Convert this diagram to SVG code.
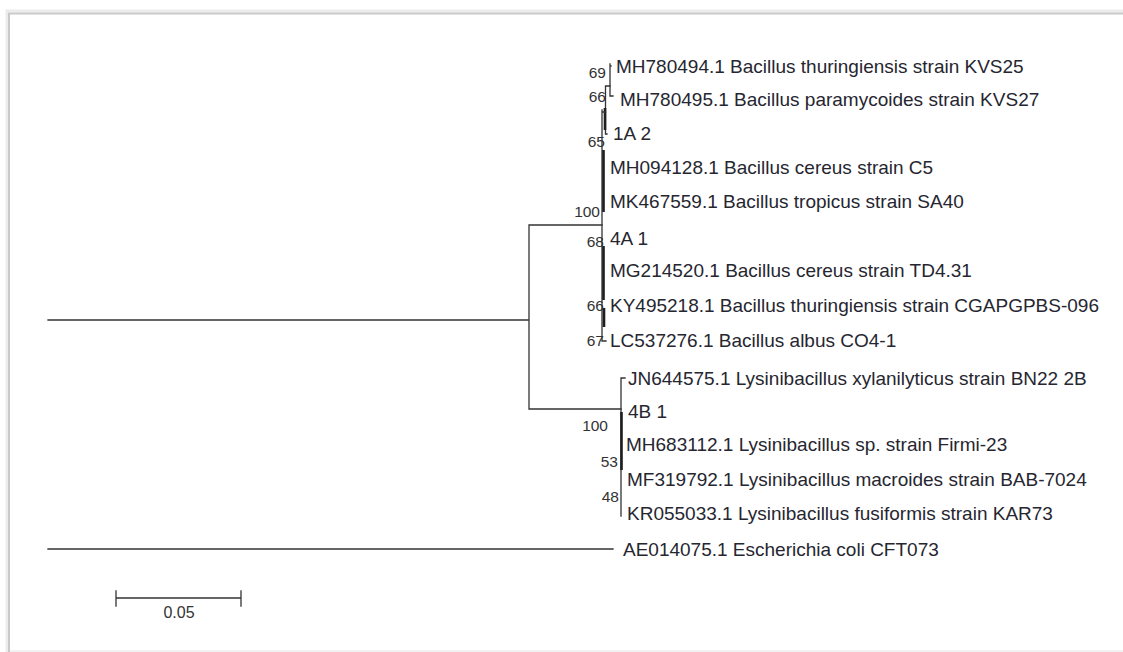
<svg xmlns="http://www.w3.org/2000/svg" width="1123" height="652" viewBox="0 0 1123 652">
<defs>
<style>
.frame{fill:none;stroke:#c9c9c9;stroke-width:2}
.shadow{fill:none;stroke:#ececec;stroke-width:3}
.br{fill:none;stroke:#333;stroke-width:1.3;stroke-linecap:square}
.thk{fill:none;stroke:#1e1e1e;stroke-width:2.6}
.leaf{font-family:"Liberation Sans",Arial,sans-serif;font-size:19px;fill:#262630}
.bs{font-family:"Liberation Sans",Arial,sans-serif;font-size:15.5px;fill:#333;text-anchor:end}
.sc{font-family:"Liberation Sans",Arial,sans-serif;font-size:16px;fill:#333;text-anchor:middle}
</style>
</defs>
<rect width="1123" height="652" fill="#ffffff"/>
<g id="frame">
<path class="shadow" d="M7,655 V11 H1126"/>
<path class="frame" d="M9,655 V13.5 H1126"/>
<path d="M10,651 H1123" stroke="#eeeeee" stroke-width="1.5" fill="none"/>
</g>
<g id="connectors">
<path class="br" d="M48,320 H529 M529,225 V409 M529,225 H602 M529,409 H621 M48,549 H613"/>
<path class="br" d="M610,64 V96 H613 M610,66 H611"/>
<path class="br" d="M605.5,86 V134 H607 M605.5,86 H610"/>
<path class="thk" d="M605,108 V130"/>
<path class="br" d="M602,110 V341 H606 M602,112 H605.5"/>
<path class="thk" d="M603.5,150 V212 M603.5,246 V300 M604,308 V327"/>
<path class="br" d="M621,378 H625 M621,378 V516"/>
<path class="thk" d="M621.5,412 V470"/>
</g>
<g id="labels-bootstrap">
<text class="bs" x="606" y="78">69</text>
<text class="bs" x="606" y="102">66</text>
<text class="bs" x="605" y="147">65</text>
<text class="bs" x="600" y="217">100</text>
<text class="bs" x="604" y="247">68</text>
<text class="bs" x="604" y="311">66</text>
<text class="bs" x="604" y="346">67</text>
<text class="bs" x="608" y="431">100</text>
<text class="bs" x="618" y="467">53</text>
<text class="bs" x="619" y="502">48</text>
</g>
<g id="leaf-MH780494"><text class="leaf" x="616" y="73">MH780494.1 Bacillus thuringiensis strain KVS25</text></g>
<g id="leaf-MH780495"><text class="leaf" x="620" y="106">MH780495.1 Bacillus paramycoides strain KVS27</text></g>
<g id="leaf-1A2"><text class="leaf" x="613" y="140">1A 2</text></g>
<g id="leaf-MH094128"><text class="leaf" x="610" y="174">MH094128.1 Bacillus cereus strain C5</text></g>
<g id="leaf-MK467559"><text class="leaf" x="610" y="208">MK467559.1 Bacillus tropicus strain SA40</text></g>
<g id="leaf-4A1"><text class="leaf" x="610" y="245">4A 1</text></g>
<g id="leaf-MG214520"><text class="leaf" x="610" y="277">MG214520.1 Bacillus cereus strain TD4.31</text></g>
<g id="leaf-KY495218"><text class="leaf" x="610" y="312">KY495218.1 Bacillus thuringiensis strain CGAPGPBS-096</text></g>
<g id="leaf-LC537276"><text class="leaf" x="610" y="347">LC537276.1 Bacillus albus CO4-1</text></g>
<g id="leaf-JN644575"><text class="leaf" x="628" y="385">JN644575.1 Lysinibacillus xylanilyticus strain BN22 2B</text></g>
<g id="leaf-4B1"><text class="leaf" x="628" y="418">4B 1</text></g>
<g id="leaf-MH683112"><text class="leaf" x="626" y="451">MH683112.1 Lysinibacillus sp. strain Firmi-23</text></g>
<g id="leaf-MF319792"><text class="leaf" x="627" y="486">MF319792.1 Lysinibacillus macroides strain BAB-7024</text></g>
<g id="leaf-KR055033"><text class="leaf" x="627" y="520">KR055033.1 Lysinibacillus fusiformis strain KAR73</text></g>
<g id="leaf-AE014075"><text class="leaf" x="623" y="556">AE014075.1 Escherichia coli CFT073</text></g>
<g id="scale-bar">
<path class="br" d="M116,598 H241 M116,591 V606 M241,591 V606"/>
<text class="sc" x="179" y="618">0.05</text>
</g>
</svg>
